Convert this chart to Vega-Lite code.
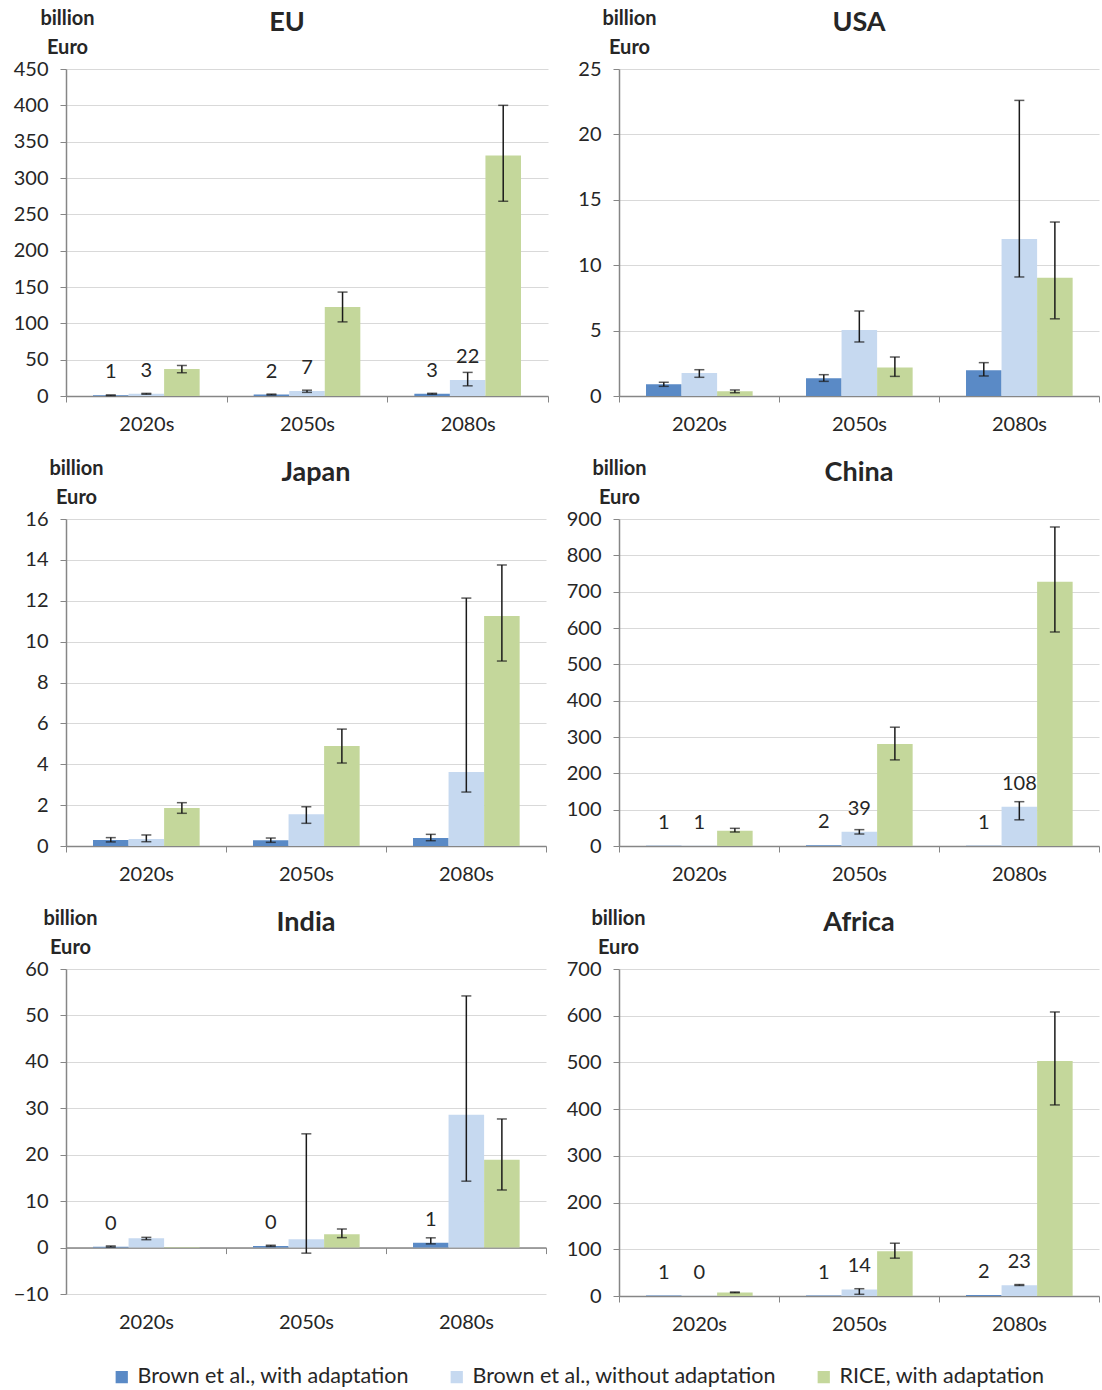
{
  "$schema": "https://vega.github.io/schema/vega-lite/v6.json",
  "padding": {"left": 13, "top": 8, "right": 0, "bottom": 0},
  "datasets": {
    "d": [
      {"region": "EU", "period": "2020s", "series": "Brown et al., with adaptation", "value": 1, "low": 0.5, "high": 1.5, "label": "1"},
      {"region": "EU", "period": "2020s", "series": "Brown et al., without adaptation", "value": 3, "low": 2.4, "high": 3.6, "label": "3"},
      {"region": "EU", "period": "2020s", "series": "RICE, with adaptation", "value": 37, "low": 32, "high": 42, "label": null},
      {"region": "EU", "period": "2050s", "series": "Brown et al., with adaptation", "value": 2, "low": 1.4, "high": 2.6, "label": "2"},
      {"region": "EU", "period": "2050s", "series": "Brown et al., without adaptation", "value": 7, "low": 5, "high": 8, "label": "7"},
      {"region": "EU", "period": "2050s", "series": "RICE, with adaptation", "value": 122.5, "low": 102, "high": 143, "label": null},
      {"region": "EU", "period": "2080s", "series": "Brown et al., with adaptation", "value": 3, "low": 2.3, "high": 3.7, "label": "3"},
      {"region": "EU", "period": "2080s", "series": "Brown et al., without adaptation", "value": 22, "low": 14, "high": 32.5, "label": "22"},
      {"region": "EU", "period": "2080s", "series": "RICE, with adaptation", "value": 331, "low": 268, "high": 400, "label": null},

      {"region": "USA", "period": "2020s", "series": "Brown et al., with adaptation", "value": 0.89, "low": 0.74, "high": 1.05, "label": null},
      {"region": "USA", "period": "2020s", "series": "Brown et al., without adaptation", "value": 1.76, "low": 1.43, "high": 2.01, "label": null},
      {"region": "USA", "period": "2020s", "series": "RICE, with adaptation", "value": 0.36, "low": 0.25, "high": 0.46, "label": null},
      {"region": "USA", "period": "2050s", "series": "Brown et al., with adaptation", "value": 1.35, "low": 1.12, "high": 1.63, "label": null},
      {"region": "USA", "period": "2050s", "series": "Brown et al., without adaptation", "value": 5.05, "low": 4.13, "high": 6.5, "label": null},
      {"region": "USA", "period": "2050s", "series": "RICE, with adaptation", "value": 2.17, "low": 1.5, "high": 2.98, "label": null},
      {"region": "USA", "period": "2080s", "series": "Brown et al., with adaptation", "value": 1.96, "low": 1.53, "high": 2.55, "label": null},
      {"region": "USA", "period": "2080s", "series": "Brown et al., without adaptation", "value": 12.0, "low": 9.1, "high": 22.6, "label": null},
      {"region": "USA", "period": "2080s", "series": "RICE, with adaptation", "value": 9.05, "low": 5.9, "high": 13.3, "label": null},

      {"region": "Japan", "period": "2020s", "series": "Brown et al., with adaptation", "value": 0.29, "low": 0.2, "high": 0.41, "label": null},
      {"region": "Japan", "period": "2020s", "series": "Brown et al., without adaptation", "value": 0.34, "low": 0.21, "high": 0.54, "label": null},
      {"region": "Japan", "period": "2020s", "series": "RICE, with adaptation", "value": 1.86, "low": 1.6, "high": 2.12, "label": null},
      {"region": "Japan", "period": "2050s", "series": "Brown et al., with adaptation", "value": 0.28, "low": 0.18, "high": 0.39, "label": null},
      {"region": "Japan", "period": "2050s", "series": "Brown et al., without adaptation", "value": 1.55, "low": 1.11, "high": 1.92, "label": null},
      {"region": "Japan", "period": "2050s", "series": "RICE, with adaptation", "value": 4.89, "low": 4.06, "high": 5.72, "label": null},
      {"region": "Japan", "period": "2080s", "series": "Brown et al., with adaptation", "value": 0.39, "low": 0.26, "high": 0.57, "label": null},
      {"region": "Japan", "period": "2080s", "series": "Brown et al., without adaptation", "value": 3.62, "low": 2.64, "high": 12.13, "label": null},
      {"region": "Japan", "period": "2080s", "series": "RICE, with adaptation", "value": 11.25, "low": 9.05, "high": 13.75, "label": null},

      {"region": "China", "period": "2020s", "series": "Brown et al., with adaptation", "value": 1, "low": null, "high": null, "label": "1"},
      {"region": "China", "period": "2020s", "series": "Brown et al., without adaptation", "value": 1, "low": null, "high": null, "label": "1"},
      {"region": "China", "period": "2020s", "series": "RICE, with adaptation", "value": 42, "low": 38.5, "high": 48.6, "label": null},
      {"region": "China", "period": "2050s", "series": "Brown et al., with adaptation", "value": 2, "low": null, "high": null, "label": "2"},
      {"region": "China", "period": "2050s", "series": "Brown et al., without adaptation", "value": 39, "low": 33, "high": 45, "label": "39"},
      {"region": "China", "period": "2050s", "series": "RICE, with adaptation", "value": 281, "low": 237, "high": 327, "label": null},
      {"region": "China", "period": "2080s", "series": "Brown et al., with adaptation", "value": 1, "low": null, "high": null, "label": "1"},
      {"region": "China", "period": "2080s", "series": "Brown et al., without adaptation", "value": 108, "low": 72, "high": 122, "label": "108"},
      {"region": "China", "period": "2080s", "series": "RICE, with adaptation", "value": 727, "low": 589, "high": 878, "label": null},

      {"region": "India", "period": "2020s", "series": "Brown et al., with adaptation", "value": 0.2, "low": 0.1, "high": 0.35, "label": "0"},
      {"region": "India", "period": "2020s", "series": "Brown et al., without adaptation", "value": 2.0, "low": 1.7, "high": 2.2, "label": null},
      {"region": "India", "period": "2020s", "series": "RICE, with adaptation", "value": 0.15, "low": null, "high": null, "label": null},
      {"region": "India", "period": "2050s", "series": "Brown et al., with adaptation", "value": 0.35, "low": 0.25, "high": 0.5, "label": "0"},
      {"region": "India", "period": "2050s", "series": "Brown et al., without adaptation", "value": 1.8, "low": -1.2, "high": 24.5, "label": null},
      {"region": "India", "period": "2050s", "series": "RICE, with adaptation", "value": 2.87, "low": 2.14, "high": 4.0, "label": null},
      {"region": "India", "period": "2080s", "series": "Brown et al., with adaptation", "value": 1.05, "low": 0.8, "high": 2.1, "label": "1"},
      {"region": "India", "period": "2080s", "series": "Brown et al., without adaptation", "value": 28.6, "low": 14.3, "high": 54.2, "label": null},
      {"region": "India", "period": "2080s", "series": "RICE, with adaptation", "value": 18.9, "low": 12.4, "high": 27.7, "label": null},

      {"region": "Africa", "period": "2020s", "series": "Brown et al., with adaptation", "value": 1, "low": null, "high": null, "label": "1"},
      {"region": "Africa", "period": "2020s", "series": "Brown et al., without adaptation", "value": 0.3, "low": null, "high": null, "label": "0"},
      {"region": "Africa", "period": "2020s", "series": "RICE, with adaptation", "value": 7.5, "low": 7, "high": 8.5, "label": null},
      {"region": "Africa", "period": "2050s", "series": "Brown et al., with adaptation", "value": 1, "low": null, "high": null, "label": "1"},
      {"region": "Africa", "period": "2050s", "series": "Brown et al., without adaptation", "value": 14, "low": 3.6, "high": 15.6, "label": "14"},
      {"region": "Africa", "period": "2050s", "series": "RICE, with adaptation", "value": 96, "low": 81, "high": 113, "label": null},
      {"region": "Africa", "period": "2080s", "series": "Brown et al., with adaptation", "value": 2, "low": null, "high": null, "label": "2"},
      {"region": "Africa", "period": "2080s", "series": "Brown et al., without adaptation", "value": 23, "low": 22.5, "high": 24.5, "label": "23"},
      {"region": "Africa", "period": "2080s", "series": "RICE, with adaptation", "value": 503, "low": 409, "high": 608, "label": null}
    ]
  },
  "columns": 2,
  "spacing": {"column": 17, "row": 24},
  "resolve": {"scale": {"color": "shared"}, "legend": {"color": "shared"}},
  "concat": [
    {
      "width": 482, "height": 327,
      "title": {"text": "EU", "dx": -20, "offset": -29},
      "data": {"name": "d"},
      "transform": [{"filter": "datum.region === 'EU'"}],
      "encoding": {
        "x": {"field": "period", "type": "nominal", "scale": {"paddingInner": 0, "paddingOuter": 0}},
        "xOffset": {"field": "series", "type": "nominal", "scale": {"domain": ["Brown et al., with adaptation", "Brown et al., without adaptation", "RICE, with adaptation"], "paddingInner": 0, "paddingOuter": 0.76}}
      },
      "layer": [
        {"mark": {"type": "bar"}, "encoding": {
          "y": {"field": "value", "type": "quantitative", "scale": {"domain": [0, 450], "nice": false}, "axis": {"values": [0, 50, 100, 150, 200, 250, 300, 350, 400, 450], "title": ["billion", "Euro"], "titleX": 1}},
          "color": {"field": "series", "type": "nominal", "scale": {"domain": ["Brown et al., with adaptation", "Brown et al., without adaptation", "RICE, with adaptation"], "range": ["#5a8ac6", "#c6d9f0", "#c4d79b"]}, "legend": {"title": null, "orient": "none", "legendX": 45, "legendY": 1297}}}},
        {"mark": {"type": "rule", "color": "#1a1a1a", "strokeWidth": 1.5}, "encoding": {"y": {"field": "low", "type": "quantitative", "axis": {"values": [0, 50, 100, 150, 200, 250, 300, 350, 400, 450], "title": ["billion", "Euro"], "titleX": 1}}, "y2": {"field": "high"}}},
        {"mark": {"type": "tick", "color": "#1a1a1a", "size": 10, "thickness": 1.5}, "encoding": {"y": {"field": "low", "type": "quantitative", "axis": {"values": [0, 50, 100, 150, 200, 250, 300, 350, 400, 450], "title": ["billion", "Euro"], "titleX": 1}}}},
        {"mark": {"type": "tick", "color": "#1a1a1a", "size": 10, "thickness": 1.5}, "encoding": {"y": {"field": "high", "type": "quantitative", "axis": {"values": [0, 50, 100, 150, 200, 250, 300, 350, 400, 450], "title": ["billion", "Euro"], "titleX": 1}}}},
        {"transform": [{"filter": "datum.label != null"}], "mark": {"type": "text", "dy": -23, "fontSize": 20, "color": "#262626"}, "encoding": {"y": {"field": "value", "type": "quantitative", "axis": {"values": [0, 50, 100, 150, 200, 250, 300, 350, 400, 450], "title": ["billion", "Euro"], "titleX": 1}}, "text": {"field": "label"}}}
      ]
    },
    {
      "width": 480, "height": 327,
      "title": {"text": "USA", "offset": -29},
      "data": {"name": "d"},
      "transform": [{"filter": "datum.region === 'USA'"}],
      "encoding": {
        "x": {"field": "period", "type": "nominal", "scale": {"paddingInner": 0, "paddingOuter": 0}},
        "xOffset": {"field": "series", "type": "nominal", "scale": {"domain": ["Brown et al., with adaptation", "Brown et al., without adaptation", "RICE, with adaptation"], "paddingInner": 0, "paddingOuter": 0.76}}
      },
      "layer": [
        {"mark": {"type": "bar"}, "encoding": {
          "y": {"field": "value", "type": "quantitative", "scale": {"domain": [0, 25], "nice": false}, "axis": {"values": [0, 5, 10, 15, 20, 25], "title": ["billion", "Euro"], "titleX": 10}},
          "color": {"field": "series", "type": "nominal"}}},
        {"mark": {"type": "rule", "color": "#1a1a1a", "strokeWidth": 1.5}, "encoding": {"y": {"field": "low", "type": "quantitative", "axis": {"values": [0, 5, 10, 15, 20, 25], "title": ["billion", "Euro"], "titleX": 10}}, "y2": {"field": "high"}}},
        {"mark": {"type": "tick", "color": "#1a1a1a", "size": 10, "thickness": 1.5}, "encoding": {"y": {"field": "low", "type": "quantitative", "axis": {"values": [0, 5, 10, 15, 20, 25], "title": ["billion", "Euro"], "titleX": 10}}}},
        {"mark": {"type": "tick", "color": "#1a1a1a", "size": 10, "thickness": 1.5}, "encoding": {"y": {"field": "high", "type": "quantitative", "axis": {"values": [0, 5, 10, 15, 20, 25], "title": ["billion", "Euro"], "titleX": 10}}}}
      ]
    },
    {
      "width": 480, "height": 327,
      "title": {"text": "Japan", "dx": 10, "offset": -29},
      "data": {"name": "d"},
      "transform": [{"filter": "datum.region === 'Japan'"}],
      "encoding": {
        "x": {"field": "period", "type": "nominal", "scale": {"paddingInner": 0, "paddingOuter": 0}},
        "xOffset": {"field": "series", "type": "nominal", "scale": {"domain": ["Brown et al., with adaptation", "Brown et al., without adaptation", "RICE, with adaptation"], "paddingInner": 0, "paddingOuter": 0.76}}
      },
      "layer": [
        {"mark": {"type": "bar"}, "encoding": {
          "y": {"field": "value", "type": "quantitative", "scale": {"domain": [0, 16], "nice": false}, "axis": {"values": [0, 2, 4, 6, 8, 10, 12, 14, 16], "title": ["billion", "Euro"], "titleX": 10}},
          "color": {"field": "series", "type": "nominal"}}},
        {"mark": {"type": "rule", "color": "#1a1a1a", "strokeWidth": 1.5}, "encoding": {"y": {"field": "low", "type": "quantitative", "axis": {"values": [0, 2, 4, 6, 8, 10, 12, 14, 16], "title": ["billion", "Euro"], "titleX": 10}}, "y2": {"field": "high"}}},
        {"mark": {"type": "tick", "color": "#1a1a1a", "size": 10, "thickness": 1.5}, "encoding": {"y": {"field": "low", "type": "quantitative", "axis": {"values": [0, 2, 4, 6, 8, 10, 12, 14, 16], "title": ["billion", "Euro"], "titleX": 10}}}},
        {"mark": {"type": "tick", "color": "#1a1a1a", "size": 10, "thickness": 1.5}, "encoding": {"y": {"field": "high", "type": "quantitative", "axis": {"values": [0, 2, 4, 6, 8, 10, 12, 14, 16], "title": ["billion", "Euro"], "titleX": 10}}}}
      ]
    },
    {
      "width": 480, "height": 327,
      "title": {"text": "China", "offset": -29},
      "data": {"name": "d"},
      "transform": [{"filter": "datum.region === 'China'"}],
      "encoding": {
        "x": {"field": "period", "type": "nominal", "scale": {"paddingInner": 0, "paddingOuter": 0}},
        "xOffset": {"field": "series", "type": "nominal", "scale": {"domain": ["Brown et al., with adaptation", "Brown et al., without adaptation", "RICE, with adaptation"], "paddingInner": 0, "paddingOuter": 0.76}}
      },
      "layer": [
        {"mark": {"type": "bar"}, "encoding": {
          "y": {"field": "value", "type": "quantitative", "scale": {"domain": [0, 900], "nice": false}, "axis": {"values": [0, 100, 200, 300, 400, 500, 600, 700, 800, 900], "title": ["billion", "Euro"], "titleX": 0}},
          "color": {"field": "series", "type": "nominal"}}},
        {"mark": {"type": "rule", "color": "#1a1a1a", "strokeWidth": 1.5}, "encoding": {"y": {"field": "low", "type": "quantitative", "axis": {"values": [0, 100, 200, 300, 400, 500, 600, 700, 800, 900], "title": ["billion", "Euro"], "titleX": 0}}, "y2": {"field": "high"}}},
        {"mark": {"type": "tick", "color": "#1a1a1a", "size": 10, "thickness": 1.5}, "encoding": {"y": {"field": "low", "type": "quantitative", "axis": {"values": [0, 100, 200, 300, 400, 500, 600, 700, 800, 900], "title": ["billion", "Euro"], "titleX": 0}}}},
        {"mark": {"type": "tick", "color": "#1a1a1a", "size": 10, "thickness": 1.5}, "encoding": {"y": {"field": "high", "type": "quantitative", "axis": {"values": [0, 100, 200, 300, 400, 500, 600, 700, 800, 900], "title": ["billion", "Euro"], "titleX": 0}}}},
        {"transform": [{"filter": "datum.label != null"}], "mark": {"type": "text", "dy": -23, "fontSize": 20, "color": "#262626"}, "encoding": {"y": {"field": "value", "type": "quantitative", "axis": {"values": [0, 100, 200, 300, 400, 500, 600, 700, 800, 900], "title": ["billion", "Euro"], "titleX": 0}}, "text": {"field": "label"}}}
      ]
    },
    {
      "width": 480, "height": 325,
      "title": {"text": "India", "offset": -29},
      "data": {"name": "d"},
      "transform": [{"filter": "datum.region === 'India'"}],
      "encoding": {
        "xOffset": {"field": "series", "type": "nominal", "scale": {"domain": ["Brown et al., with adaptation", "Brown et al., without adaptation", "RICE, with adaptation"], "paddingInner": 0, "paddingOuter": 0.76}}
      },
      "resolve": {"axis": {"x": "independent"}},
      "layer": [
        {"mark": {"type": "bar"}, "encoding": {
          "x": {"field": "period", "type": "nominal", "scale": {"paddingInner": 0, "paddingOuter": 0}, "axis": {"orient": "bottom", "offset": -46.4, "labels": false}},
          "y": {"field": "value", "type": "quantitative", "scale": {"domain": [-10, 60], "nice": false}, "axis": {"values": [-10, 0, 10, 20, 30, 40, 50, 60], "title": ["billion", "Euro"], "titleX": 4}},
          "color": {"field": "series", "type": "nominal"}}},
        {"mark": {"type": "rule", "color": "#1a1a1a", "strokeWidth": 1.5}, "encoding": {"x": {"field": "period", "type": "nominal", "axis": null}, "y": {"field": "low", "type": "quantitative", "axis": {"values": [-10, 0, 10, 20, 30, 40, 50, 60], "title": ["billion", "Euro"], "titleX": 4}}, "y2": {"field": "high"}}},
        {"mark": {"type": "tick", "color": "#1a1a1a", "size": 10, "thickness": 1.5}, "encoding": {"x": {"field": "period", "type": "nominal", "axis": null}, "y": {"field": "low", "type": "quantitative", "axis": {"values": [-10, 0, 10, 20, 30, 40, 50, 60], "title": ["billion", "Euro"], "titleX": 4}}}},
        {"mark": {"type": "tick", "color": "#1a1a1a", "size": 10, "thickness": 1.5}, "encoding": {"x": {"field": "period", "type": "nominal", "axis": null}, "y": {"field": "high", "type": "quantitative", "axis": {"values": [-10, 0, 10, 20, 30, 40, 50, 60], "title": ["billion", "Euro"], "titleX": 4}}}},
        {"transform": [{"filter": "datum.label != null"}], "mark": {"type": "text", "dy": -23, "fontSize": 20, "color": "#262626"}, "encoding": {"x": {"field": "period", "type": "nominal", "axis": {"orient": "bottom", "domain": false, "ticks": false, "labelPadding": 18}}, "y": {"field": "value", "type": "quantitative", "axis": {"values": [-10, 0, 10, 20, 30, 40, 50, 60], "title": ["billion", "Euro"], "titleX": 4}}, "text": {"field": "label"}}}
      ]
    },
    {
      "width": 480, "height": 327,
      "title": {"text": "Africa", "offset": -29},
      "data": {"name": "d"},
      "transform": [{"filter": "datum.region === 'Africa'"}],
      "encoding": {
        "x": {"field": "period", "type": "nominal", "scale": {"paddingInner": 0, "paddingOuter": 0}},
        "xOffset": {"field": "series", "type": "nominal", "scale": {"domain": ["Brown et al., with adaptation", "Brown et al., without adaptation", "RICE, with adaptation"], "paddingInner": 0, "paddingOuter": 0.76}}
      },
      "layer": [
        {"mark": {"type": "bar"}, "encoding": {
          "y": {"field": "value", "type": "quantitative", "scale": {"domain": [0, 700], "nice": false}, "axis": {"values": [0, 100, 200, 300, 400, 500, 600, 700], "title": ["billion", "Euro"], "titleX": -1}},
          "color": {"field": "series", "type": "nominal"}}},
        {"mark": {"type": "rule", "color": "#1a1a1a", "strokeWidth": 1.5}, "encoding": {"y": {"field": "low", "type": "quantitative", "axis": {"values": [0, 100, 200, 300, 400, 500, 600, 700], "title": ["billion", "Euro"], "titleX": -1}}, "y2": {"field": "high"}}},
        {"mark": {"type": "tick", "color": "#1a1a1a", "size": 10, "thickness": 1.5}, "encoding": {"y": {"field": "low", "type": "quantitative", "axis": {"values": [0, 100, 200, 300, 400, 500, 600, 700], "title": ["billion", "Euro"], "titleX": -1}}}},
        {"mark": {"type": "tick", "color": "#1a1a1a", "size": 10, "thickness": 1.5}, "encoding": {"y": {"field": "high", "type": "quantitative", "axis": {"values": [0, 100, 200, 300, 400, 500, 600, 700], "title": ["billion", "Euro"], "titleX": -1}}}},
        {"transform": [{"filter": "datum.label != null"}], "mark": {"type": "text", "dy": -23, "fontSize": 20, "color": "#262626"}, "encoding": {"y": {"field": "value", "type": "quantitative", "axis": {"values": [0, 100, 200, 300, 400, 500, 600, 700], "title": ["billion", "Euro"], "titleX": -1}}, "text": {"field": "label"}}}
      ]
    }
  ],
  "config": {
    "font": "Lato",
    "view": {"stroke": null},
    "axis": {"labelFont": "Lato", "labelFontSize": 20, "labelColor": "#262626", "domainColor": "#868686", "tickColor": "#868686", "gridColor": "#d9d9d9", "titleFont": "Lato", "titleFontSize": 20, "titleFontWeight": "bold", "titleColor": "#262626"},
    "axisX": {"grid": false, "tickBand": "extent", "tickSize": 6, "labelPadding": 12, "labelAngle": 0, "title": null, "domainWidth": 1.5},
    "axisY": {"tickSize": 6, "labelPadding": 12, "domainWidth": 1.5, "grid": true, "titleAngle": 0, "titleAlign": "center", "titleBaseline": "alphabetic", "titleY": -45, "titleLineHeight": 29},
    "title": {"fontSize": 27, "fontWeight": "bold", "font": "Lato", "color": "#262626", "anchor": "middle"},
    "legend": {"direction": "horizontal", "symbolType": "square", "symbolSize": 150, "symbolStrokeWidth": 0, "labelFontSize": 21.5, "labelFont": "Lato", "labelColor": "#262626", "columnPadding": 37, "labelOffset": 5, "labelLimit": 0}
  }
}
